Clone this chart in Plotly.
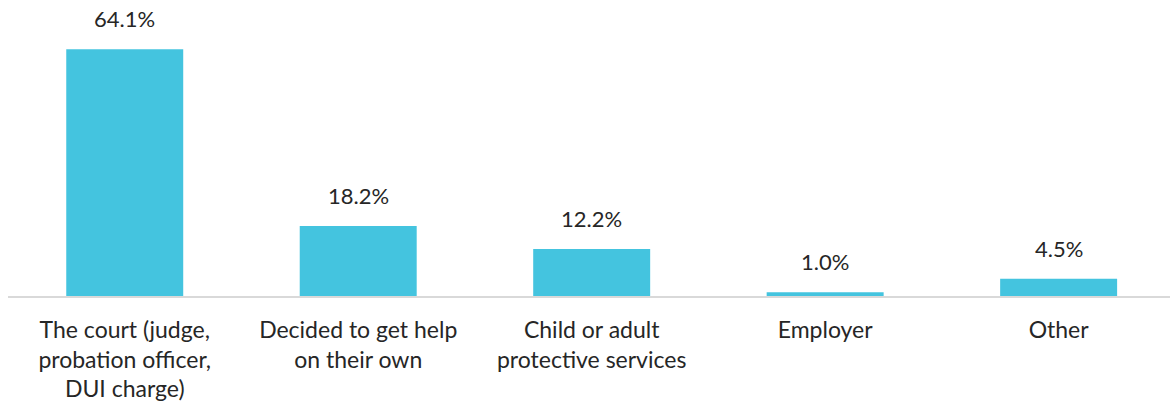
import plotly.graph_objects as go

categories = [
    "The court (judge,<br>probation officer,<br>DUI charge)",
    "Decided to get help<br>on their own",
    "Child or adult<br>protective services",
    "Employer",
    "Other",
]
values = [64.1, 18.2, 12.2, 1.0, 4.5]
labels = [f"{v:.1f}%" for v in values]

BAR = "#44C4DF"
TXT = "#262626"
FONT = "Lato, Open Sans, sans-serif"

fig = go.Figure(go.Bar(x=categories, y=values, marker_color=BAR, marker_line_width=0,
                       hoverinfo="skip"))

for c, v, t in zip(categories, values, labels):
    fig.add_annotation(x=c, y=v, text=t, showarrow=False, yanchor="bottom",
                       yshift=15, font=dict(family=FONT, size=22, color=TXT))

fig.update_layout(
    width=1170, height=410,
    margin=dict(l=8, r=0, t=10, b=114),
    paper_bgcolor="white", plot_bgcolor="white",
    bargap=0.499,
    showlegend=False,
    font=dict(family=FONT, size=23, color=TXT),
)
fig.update_xaxes(showline=True, linecolor="#D9D9D9", linewidth=2, ticks="",
                 range=[-0.5, 4.477],
                 tickfont=dict(family=FONT, size=23, color=TXT),
                 ticklabelstandoff=12, showgrid=False)
fig.update_yaxes(range=[0, 74.3], visible=False, showgrid=False)

fig.write_html("out.html")
